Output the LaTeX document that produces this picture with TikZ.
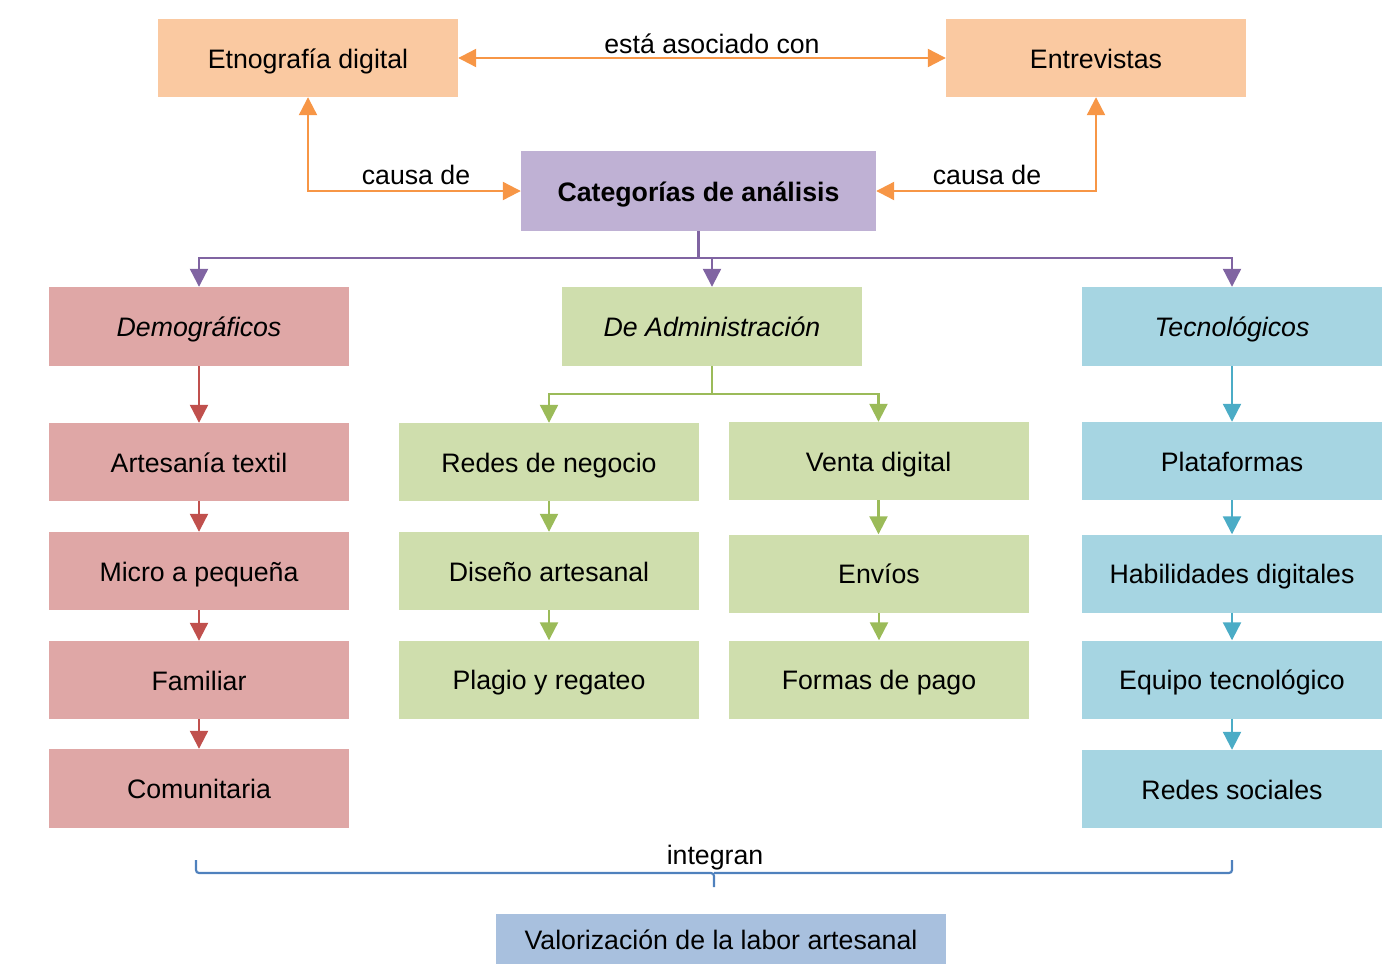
\documentclass[tikz,border=0pt]{standalone}
\usepackage{fontspec}
\setmainfont{Liberation Sans}
\usetikzlibrary{arrows.meta}
\definecolor{orfill}{HTML}{FAC9A1}
\definecolor{orline}{HTML}{F79646}
\definecolor{pufill}{HTML}{BFB1D4}
\definecolor{puline}{HTML}{8064A2}
\definecolor{refill}{HTML}{DFA7A6}
\definecolor{reline}{HTML}{C0504D}
\definecolor{grfill}{HTML}{CFDEAD}
\definecolor{grline}{HTML}{9BBB59}
\definecolor{blfill}{HTML}{A6D5E2}
\definecolor{blline}{HTML}{4BACC6}
\definecolor{vafill}{HTML}{A8C0DE}
\definecolor{brline}{HTML}{4F81BD}
\begin{document}
\begin{tikzpicture}[x=1pt,y=-1pt,
  box/.style={inner sep=0pt, minimum width=300pt, minimum height=78pt,
    text height=24pt, text depth=4pt,
    font=\fontsize{26.7}{30}\selectfont, text=black},
  conn/.style={line width=2.2pt, -{Triangle[length=18pt,width=18pt]}},
  biconn/.style={line width=2.2pt, {Triangle[length=18pt,width=18pt]}-{Triangle[length=18pt,width=18pt]}},
  lab/.style={font=\fontsize{26.7}{30}\selectfont, anchor=base, inner sep=0pt},
  orbox/.style={box, fill=orfill},
  rebox/.style={box, fill=refill},
  grbox/.style={box, fill=grfill},
  blbox/.style={box, fill=blfill}]
\useasboundingbox (0,0) rectangle (1395,977);

% nodes
\node[orbox] (etno) at (308,58) {Etnografía digital};
\node[orbox] (entre) at (1096,58) {Entrevistas};
\node[box, fill=pufill, minimum width=355pt, minimum height=80pt,
  font=\fontsize{26.7}{30}\selectfont\bfseries] (cat) at (698.5,191) {Categorías de análisis};

\node[rebox, minimum height=79pt] (demo) at (199,326.5) {\itshape Demográficos};
\node[grbox, minimum height=79pt] (admin) at (712,326.5) {\itshape De Administración};
\node[blbox, minimum height=79pt] (tec) at (1232,326.5) {\itshape Tecnológicos};

\node[rebox] (art) at (199,462) {Artesanía textil};
\node[rebox] (micro) at (199,571) {Micro a pequeña};
\node[rebox] (fam) at (199,680) {Familiar};
\node[rebox, minimum height=79pt] (com) at (199,788.5) {Comunitaria};

\node[grbox] (redes) at (549,462) {Redes de negocio};
\node[grbox] (dis) at (549,571) {Diseño artesanal};
\node[grbox] (plag) at (549,679.5) {Plagio y regateo};

\node[grbox] (venta) at (878.5,461) {Venta digital};
\node[grbox] (env) at (879,573.5) {Envíos};
\node[grbox] (formas) at (879,679.5) {Formas de pago};

\node[blbox] (plat) at (1232,461) {Plataformas};
\node[blbox] (hab) at (1232,573.5) {Habilidades digitales};
\node[blbox] (equipo) at (1232,679.5) {Equipo tecnológico};
\node[blbox] (rs) at (1232,789) {Redes sociales};

\node[box, fill=vafill, minimum width=450pt, minimum height=50pt] (val) at (721,939) {Valorización de la labor artesanal};

% orange connectors
\draw[biconn, orline] (etno.east) -- (entre.west);
\node[lab] (l1) at (712,53) {está asociado con};
\draw[biconn, orline] (etno.south) |- (cat.west);
\node[lab] (l2) at (416,184) {causa de};
\draw[biconn, orline] (entre.south) |- (cat.east);
\node[lab] (l3) at (987,184) {causa de};

% purple connectors
\coordinate (pj) at (698.5,258);
\draw[line width=2.2pt, puline] (cat.south) -- (pj);
\draw[conn, puline] (pj) -| (demo.north);
\draw[conn, puline] (pj) -| (admin.north);
\draw[conn, puline] (pj) -| (tec.north);

% green connectors
\coordinate (gj) at (712,394);
\draw[line width=2.2pt, grline] (admin.south) -- (gj);
\draw[conn, grline] (gj) -| (redes.north);
\draw[conn, grline] (gj) -| (venta.north);
\draw[conn, grline] (redes.south) -- (dis.north);
\draw[conn, grline] (dis.south) -- (plag.north);
\draw[conn, grline] (venta.south) -- (venta.south |- env.north);
\draw[conn, grline] (env.south) -- (formas.north);

% red connectors
\draw[conn, reline] (demo.south) -- (art.north);
\draw[conn, reline] (art.south) -- (micro.north);
\draw[conn, reline] (micro.south) -- (fam.north);
\draw[conn, reline] (fam.south) -- (com.north);

% blue connectors
\draw[conn, blline] (tec.south) -- (plat.north);
\draw[conn, blline] (plat.south) -- (hab.north);
\draw[conn, blline] (hab.south) -- (equipo.north);
\draw[conn, blline] (equipo.south) -- (rs.north);

% brace
\coordinate (bl) at (196,860);
\coordinate (br) at (1232,860);
\coordinate (bm) at (714,887);
\draw[line width=2.2pt, brline, rounded corners=3pt] (bl) |- (bm |- 0,873) -- (bm);
\draw[line width=2.2pt, brline, rounded corners=3pt] (bm |- 0,873) -| (br);
\node[lab] (l4) at (715,864) {integran};
\end{tikzpicture}
\end{document}
